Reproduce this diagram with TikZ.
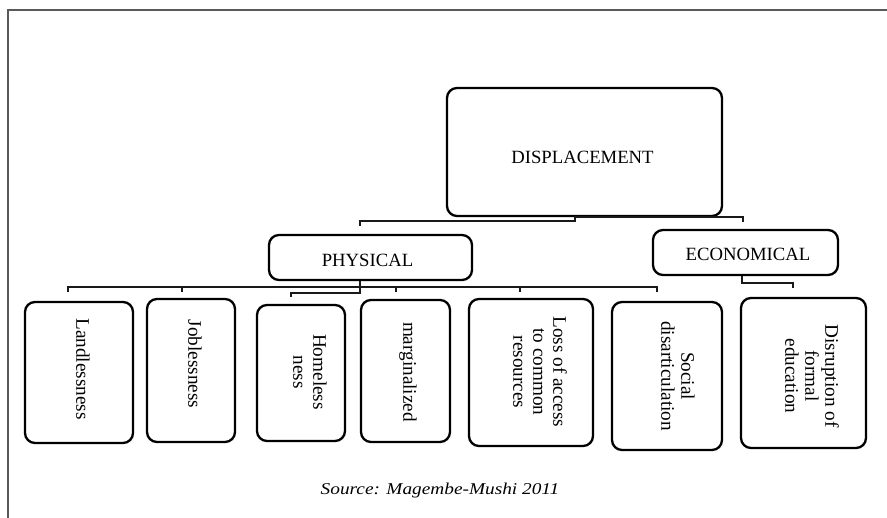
\documentclass[tikz,border=0pt]{standalone}
\usepackage{fontspec}
\usepackage{graphicx}
\setmainfont{Liberation Serif}
\begin{document}
\begin{tikzpicture}[x=1pt,y=-1pt,
  box/.style={draw=black, line width=2.3pt, rounded corners=10pt, inner sep=0pt, fill=white},
  captext/.style={font=\fontsize{18.7}{20}\selectfont, inner sep=0pt},
  verttext/.style={font=\fontsize{19.2}{20}\selectfont, rotate=-90, align=center, inner sep=0pt},
  conn/.style={draw=black!90, line width=2pt},
  frameline/.style={draw=black!65, line width=2pt}
]
\useasboundingbox (0,0) rectangle (887,518);
% frame
\draw[frameline] (8,518) -- (8,10) -- (887,10);

% boxes
\node[box, minimum width=275pt, minimum height=128pt] (disp) at (584.5,152) {};
\node[box, minimum width=203pt, minimum height=45pt] (phys) at (370.5,257.5) {};
\node[box, minimum width=185pt, minimum height=45pt] (econ) at (745.5,252.5) {};
\node[box, minimum width=108pt, minimum height=141pt] (land) at (79,372.5) {};
\node[box, minimum width=88pt, minimum height=143pt] (job) at (191,370.5) {};
\node[box, minimum width=88pt, minimum height=136pt] (home) at (301,373) {};
\node[box, minimum width=89pt, minimum height=142pt] (marg) at (405.5,371) {};
\node[box, minimum width=124pt, minimum height=147pt] (loss) at (531,372.5) {};
\node[box, minimum width=110pt, minimum height=148pt] (soc) at (667,376) {};
\node[box, minimum width=125pt, minimum height=150pt] (dis) at (803.5,373) {};

% labels
\node[captext] (tdisp) at (582.5,157) {DISPLACEMENT};
\node[captext] (tphys) at (367.5,260) {PHYSICAL};
\node[captext] (tecon) at (748,254) {ECONOMICAL};
\node[verttext] (tland) at (83,369) {Landlessness};
\node[verttext] (tjob) at (195,364) {Joblessness};
\node[verttext] (thome) at (310,372) {Homeless\\ness};
\node[verttext] (tmarg) at (408,372) {marginalized};
\node[verttext] (tloss) at (540,372) {Loss of access\\to common\\resources};
\node[verttext] (tsoc) at (678,376) {Social\\disarticulation};
\node[verttext] (tdis) at (812,376) {Disruption of\\formal\\education};

\node[inner sep=0pt] (src) at (440,491) {\scalebox{1.17}[1]{\itshape\fontsize{16.5}{18}\selectfont Source: Magembe-Mushi 2011}};

% connector coordinates
\coordinate (dl) at (360,226);
\coordinate (dr) at (743,222);
\coordinate (pl1) at (68,292);
\coordinate (pl2) at (182,292);
\coordinate (pl3) at (396,292);
\coordinate (pl4) at (520,292);
\coordinate (pl5) at (657,292);
\coordinate (ph) at (291,297);
\coordinate (ed) at (793,288);

% top connector
\draw[conn] (dl) |- (575,221) -- (disp.south -| 575,0);
\draw[conn] (disp.south -| 575,0) -- (575,217) -| (dr);

% physical connector
\draw[conn] (phys.south -| 360,0) -- (360,287);
\draw[conn] (pl1) |- (360,287) -| (pl5);
\draw[conn] (pl2) -- (182,287);
\draw[conn] (pl3) -- (396,287);
\draw[conn] (pl4) -- (520,287);
\draw[conn] (360,287) -- (360,293) -| (ph);

% economical connector
\draw[conn] (econ.south -| 742,0) -- (742,283) -| (ed);
\end{tikzpicture}
\end{document}
